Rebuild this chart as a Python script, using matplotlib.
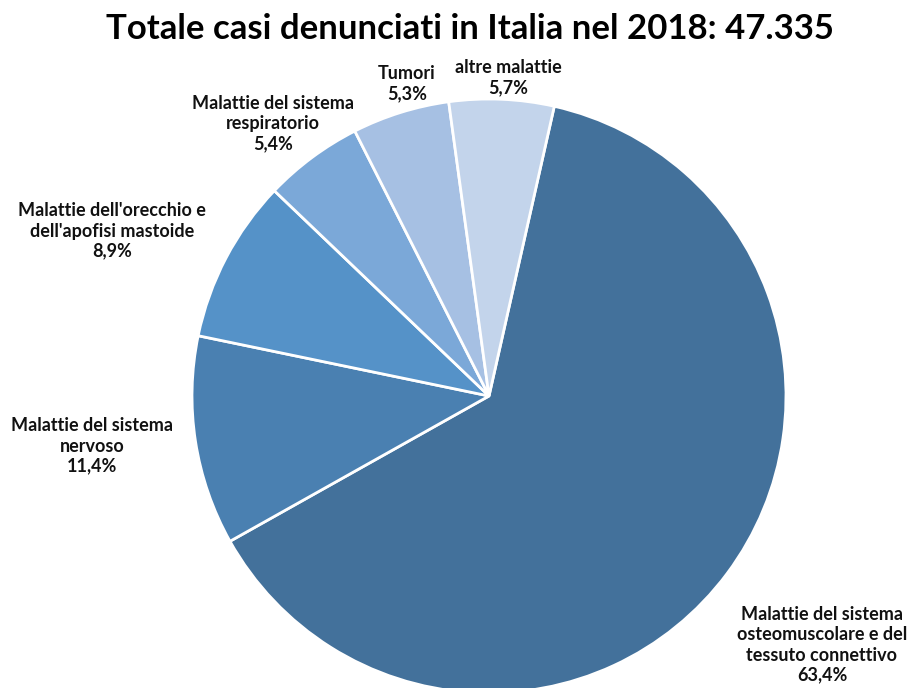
import matplotlib
matplotlib.use("Agg")
import matplotlib.pyplot as plt

plt.rcParams["font.family"] = ["Lato", "DejaVu Sans"]

title = "Totale casi denunciati in Italia nel 2018: 47.335"
categories = [
    "Malattie del sistema\nosteomuscolare e del\ntessuto connettivo",
    "Malattie del sistema\nnervoso",
    "Malattie dell'orecchio e\ndell'apofisi mastoide",
    "Malattie del sistema\nrespiratorio",
    "Tumori",
    "altre malattie",
]
shares = [63.4, 11.4, 8.9, 5.4, 5.3, 5.7]
colors = ["#43719B", "#4A80B1", "#5592C8", "#7BA8D8", "#A6C0E3", "#C3D4EB"]

# label centres in pixels (x, y from top)
label_pos = [(822, 645), (92, 446), (112, 231), (273, 124), (407, 84), (508, 78)]

W, H = 910, 688
fig = plt.figure(figsize=(W / 100, H / 100), dpi=100)

cx, cy, r = 489, 396, 297
ax = fig.add_axes([(cx - r) / W, (H - cy - r) / H, 2 * r / W, 2 * r / H])
ax.pie(shares, colors=colors, startangle=77.3, counterclock=False, radius=1,
       wedgeprops=dict(edgecolor="white", linewidth=2))
ax.set_xlim(-1, 1)
ax.set_ylim(-1, 1)
ax.axis("off")

for name, val, (x, y) in zip(categories, shares, label_pos):
    txt = name + "\n" + f"{val:.1f}".replace(".", ",") + "%"
    fig.text(x / W, 1 - y / H, txt, ha="center", va="center", fontsize=13,
             fontweight="bold", color="#111111", linespacing=1.22)

fig.text(470 / W, 1 - 29 / H, title, ha="center", va="center", fontsize=25,
         fontweight="bold", color="black")

fig.savefig("out.png", dpi=100)
